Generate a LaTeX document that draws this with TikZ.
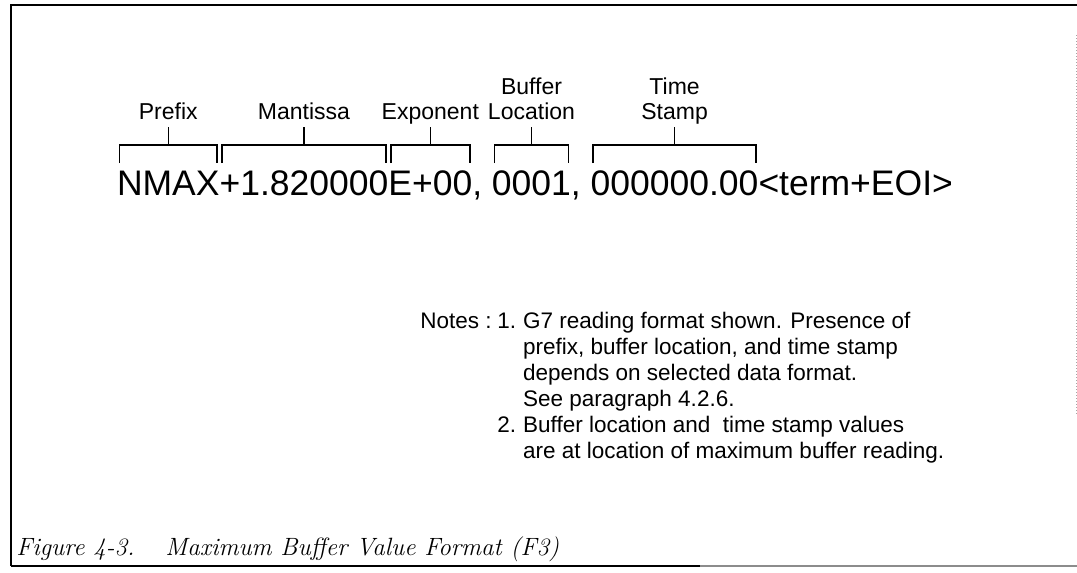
\documentclass[tikz,border=0pt]{standalone}
\usepackage{fontspec}
\setsansfont{Liberation Sans}
\usetikzlibrary{calc}

\begin{document}
\begin{tikzpicture}[x=0.5pt,y=-0.5pt,
	seg/.style={font=\sffamily\fontsize{17.75}{20}\selectfont, inner sep=0pt, outer sep=0pt, anchor=base west},
	fieldlbl/.style={font=\sffamily\fontsize{11.5}{12.5}\selectfont, inner sep=0pt, anchor=base},
	bracket/.style={line width=0.75pt},
	note/.style={font=\sffamily\fontsize{11.25}{13}\selectfont, inner sep=0pt, anchor=base west},
	caption/.style={font=\rmfamily\itshape\fontsize{12.5}{14}\selectfont, inner sep=0pt, anchor=base west}]
	\useasboundingbox (0,0) rectangle (1077,573);
	% frame
	\draw[line width=1pt] (11,566) -- (11,5) -- (1077,5);
	\draw[line width=0.8pt] (11,566) -- (700,566);
	\draw[line width=0.6pt, black!45] (700,566) -- (1077,566);
	\draw[line width=0.5pt, black!35, densely dotted] (1076,35) -- (1076,415);
	% reading string
	\node[seg] (pfx) at (117,195) {NMAX};
	\node[seg] (man) at (pfx.base east) {+1.820000};
	\node[seg] (expo) at (man.base east) {E+00};
	\node[seg] (c1) at (expo.base east) {,\kern\fontdimen2\font};
	\node[seg] (loc) at (c1.base east) {0001};
	\node[seg] (c2) at (loc.base east) {,\kern\fontdimen2\font};
	\node[seg] (tstamp) at (c2.base east) {000000.00};
	\node[seg] (term) at (tstamp.base east) {<term+EOI>};
	% field brackets
	\foreach \f/\txt in {pfx/Prefix, man/Mantissa, expo/Exponent, loc/{Buffer\\Location}, tstamp/{Time\\Stamp}}{
		\coordinate (\f-l) at ($(\f.base west)+(2.5,-32)$);
		\coordinate (\f-r) at ($(\f.base east)+(-2.5,-32)$);
		\coordinate (\f-t) at ($(\f-l)!0.5!(\f-r)+(0,-18)$);
		\node[fieldlbl] (\f-lbl) at ($(\f-t)+(0,-26)$) {\begin{tabular}[b]{@{}c@{}}\txt\end{tabular}};
		\draw[bracket] (\f-l) -- ++(0,-18) -| (\f-r);
		\draw[bracket] (\f-t) -- (\f-t |- \f-lbl.south);
	}
	% notes
	\node[note] (notes) at (420,328) {Notes :};
	\node[note] (notelist) at (497,328) {\begin{tabular}[t]{@{}l@{\hspace{3.5pt}}l@{}}
		1. & G7 reading format shown. Presence of\\
		   & prefix, buffer location, and time stamp\\
		   & depends on selected data format.\\
		   & See paragraph 4.2.6.\\
		2. & Buffer location and\ \ time stamp values\\
		   & are at location of maximum buffer reading.
	\end{tabular}};
	% caption
	\node[caption] (figno) at (16,555) {Figure 4-3.};
	\node[caption] (figtitle) at (165,555) {Maximum Buffer Value Format (F3)};
\end{tikzpicture}
\end{document}
